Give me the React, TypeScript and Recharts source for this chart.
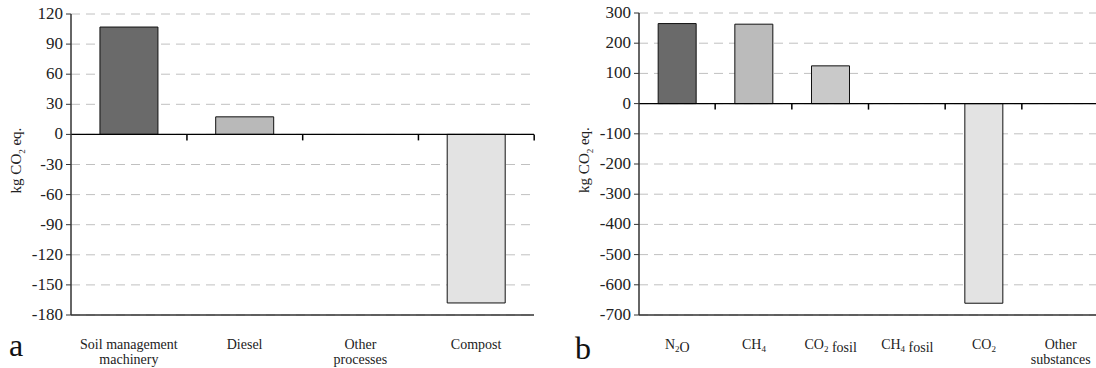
import React from 'react';
import { BarChart, Bar, XAxis, YAxis, CartesianGrid, ReferenceLine, Cell, Label, Rectangle } from 'recharts';

const FONT = '"Liberation Serif", "Times New Roman", serif';

// Panel a
const categoriesA = ['Soil management|machinery', 'Diesel', 'Other|processes', 'Compost'];
const valuesA = [107, 17.5, 0, -168];
const colorsA = ['#6a6a6a', '#b9b9b9', '#d0d0d0', '#e3e3e3'];
const ticksA = [-180, -150, -120, -90, -60, -30, 0, 30, 60, 90, 120];

// Panel b
const categoriesB = ['N_2O', 'CH_4', 'CO_2 fosil', 'CH_4 fosil', 'CO_2', 'Other|substances'];
const valuesB = [265, 263, 125, 0, -661, 0];
const colorsB = ['#6a6a6a', '#bbbbbb', '#c9c9c9', '#d0d0d0', '#e3e3e3', '#d0d0d0'];
const ticksB = [-700, -600, -500, -400, -300, -200, -100, 0, 100, 200, 300];

function rich(text: string, key: string) {
  const parts: React.ReactNode[] = [];
  let buf = '';
  let k = 0;
  for (let i = 0; i < text.length; i++) {
    if (text[i] === '_' && i + 1 < text.length) {
      if (buf) parts.push(<tspan key={key + k++}>{buf}</tspan>);
      buf = '';
      parts.push(
        <tspan key={key + k++} dy={3} fontSize={9}>{text[i + 1]}</tspan>
      );
      parts.push(<tspan key={key + k++} dy={-3}>{''}</tspan>);
      i++;
    } else {
      buf += text[i];
    }
  }
  if (buf) parts.push(<tspan key={key + k++}>{buf}</tspan>);
  return parts;
}

const XTick = (props: any) => {
  const { x, y, payload } = props;
  const lines = String(payload.value).split('|');
  return (
    <g>
      {lines.map((ln, i) => (
        <text
          key={i}
          x={x}
          y={y + 34 + i * 15}
          textAnchor="middle"
          fontFamily={FONT}
          fontSize={14}
          fill="#222"
        >
          {rich(ln, 'l' + i)}
        </text>
      ))}
    </g>
  );
};

const YTick = (props: any) => {
  const { x, y, payload } = props;
  return (
    <text
      x={x}
      y={y}
      dy={5}
      textAnchor="end"
      fontFamily={FONT}
      fontSize={17}
      style={{ fontFamily: FONT, fontSize: 17 }}
      fill="#222"
    >
      {payload.value}
    </text>
  );
};

const makeYLabel = (offsetX: number) => (p: any) => {
  const vb = p.viewBox || {};
  const cx = vb.x + offsetX;
  const cy = vb.y + vb.height / 2 - 4;
  return (
    <text
      transform={`translate(${cx},${cy}) rotate(-90)`}
      textAnchor="middle"
      fontFamily={FONT}
      fontSize={15}
      fill="#222"
    >
      kg CO<tspan dy={4} fontSize={9}>2</tspan>
      <tspan dy={-4}> eq.</tspan>
    </text>
  );
};

// bar plus the small tick on the zero line at the right boundary of its category
function BarShape(props: any) {
  const { x, y, width, height, value, fill } = props;
  const v = Array.isArray(value) ? value[1] - value[0] : Number(value);
  const y0 = Math.min(y, y + height);
  const y1 = Math.max(y, y + height);
  const zeroY = v > 0 ? y1 : y0;
  const bx = x + width * 1.5;
  const h = Math.abs(height);
  return (
    <g>
      {h > 0 && (
        <Rectangle x={x} y={y0} width={width} height={h} fill={fill} stroke="#111" strokeWidth={1} />
      )}
      <path d={`M${bx},${zeroY}L${bx},${zeroY + 6}`} stroke="#000" strokeWidth={1.5} />
    </g>
  );
}

type PanelProps = {
  categories: string[];
  values: number[];
  colors: string[];
  ticks: number[];
  left: number;
  width: number;
  margin: { top: number; right: number; left: number; bottom: number };
  yWidth: number;
  labelX: number;
};

const Panel = (pp: PanelProps) => {
  const data = pp.categories.map((c, i) => ({ name: c, value: pp.values[i] }));
  const domain: [number, number] = [pp.ticks[0], pp.ticks[pp.ticks.length - 1]];
  return (
    <div style={{ position: 'absolute', left: pp.left, top: 0, fontFamily: FONT }}>
      <BarChart
        width={pp.width}
        height={368}
        data={data}
        margin={pp.margin}
        barCategoryGap="25%"
      >
        <CartesianGrid
          xAxisId="c"
          yAxisId="l"
          vertical={false}
          stroke="#c0c0c0"
          strokeDasharray="9 6"
        />
        <XAxis
          xAxisId="c"
          dataKey="name"
          type="category"
          height={53}
          tickLine={false}
          tickSize={0}
          tickMargin={0}
          axisLine={{ stroke: '#333', strokeWidth: 1.5 }}
          tick={(p: any) => <XTick {...p} />}
          interval={0}
        />
        <XAxis
          xAxisId="t"
          dataKey="name"
          type="category"
          orientation="top"
          height={0}
          tick={false}
          tickLine={false}
          axisLine={{ stroke: '#555', strokeWidth: 1.5 }}
        />
        <YAxis
          yAxisId="l"
          domain={domain}
          ticks={pp.ticks}
          interval={0}
          width={pp.yWidth}
          tickSize={5}
          tickMargin={3}
          axisLine={{ stroke: '#333', strokeWidth: 1.5 }}
          tickLine={{ stroke: '#333' }}
          tick={(p: any) => <YTick {...p} />}
        >
          <Label content={makeYLabel(pp.labelX)} />
        </YAxis>
        <YAxis
          yAxisId="r"
          orientation="right"
          domain={domain}
          width={0}
          tick={false}
          tickLine={false}
          axisLine={{ stroke: '#444', strokeWidth: 1.5 }}
        />
        <Bar
          dataKey="value"
          xAxisId="c"
          yAxisId="l"
          isAnimationActive={false}
          shape={(p: any) => <BarShape {...p} />}
        >
          {data.map((d, i) => (
            <Cell key={i} fill={pp.colors[i]} />
          ))}
        </Bar>
        <ReferenceLine xAxisId="c" yAxisId="l" y={0} stroke="#000" strokeWidth={1.2} />
      </BarChart>
    </div>
  );
};

const letterStyle: React.CSSProperties = {
  position: 'absolute',
  fontFamily: FONT,
  fontSize: 32,
  color: '#111',
  lineHeight: '32px',
};

export default function App() {
  return (
    <div
      style={{
        position: 'fixed',
        left: 0,
        top: 0,
        width: 1096,
        height: 368,
        overflow: 'hidden',
        background: '#fff',
        fontFamily: FONT,
      }}
    >
      <Panel
        categories={categoriesA}
        values={valuesA}
        colors={colorsA}
        ticks={ticksA}
        left={0}
        width={560}
        margin={{ top: 14, right: 26, left: 0, bottom: 0 }}
        yWidth={71}
        labelX={21}
      />
      <Panel
        categories={categoriesB}
        values={valuesB}
        colors={colorsB}
        ticks={ticksB}
        left={540}
        width={560}
        margin={{ top: 13, right: 1, left: 0, bottom: 0 }}
        yWidth={99}
        labelX={49}
      />
      <div style={{ ...letterStyle, left: 9, top: 329 }}>a</div>
      <div style={{ ...letterStyle, left: 575, top: 332 }}>b</div>
    </div>
  );
}
